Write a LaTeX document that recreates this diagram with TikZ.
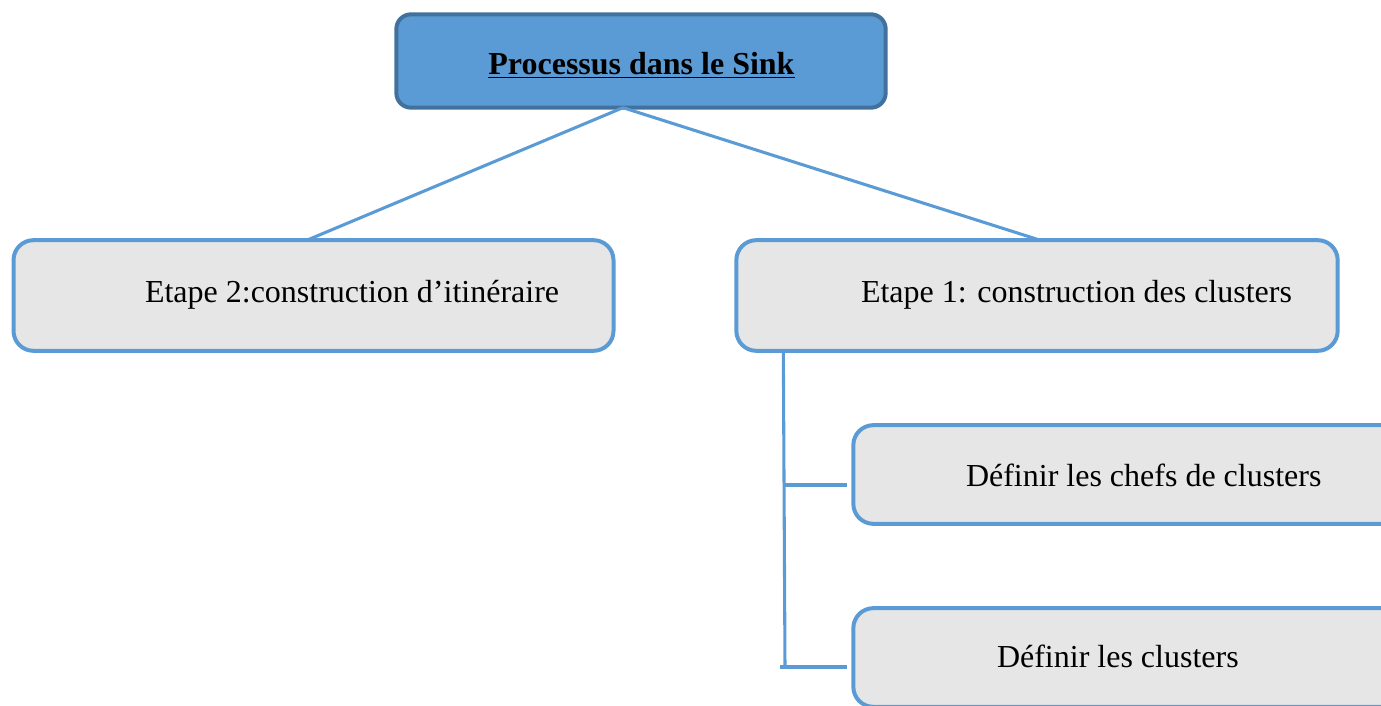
\documentclass[tikz,border=0pt]{standalone}
\usepackage{fontspec}
\setmainfont{Liberation Serif}
\usetikzlibrary{calc}
\definecolor{accent}{HTML}{5B9BD5}
\definecolor{accentdark}{HTML}{41719C}
\definecolor{panel}{HTML}{E7E6E6}
\begin{document}
\begin{tikzpicture}[x=0.75pt,y=-0.75pt,
  every node/.style={inner sep=0pt,outer sep=0pt},
  rootbox/.style={draw=accentdark,fill=accent,line width=3pt,rounded corners=11pt},
  stepbox/.style={draw=accent,fill=panel,line width=3pt,rounded corners=15pt},
  label/.style={font=\fontsize{24}{28}\selectfont,anchor=base west},
  link/.style={draw=accent,line width=2.3pt}]
\useasboundingbox (0,0) rectangle (1381,706);
\clip (0,0) rectangle (1381,706);

% boxes
\node[rootbox,minimum width=367pt,minimum height=70pt] (sink) at (641,61) {};
\node[stepbox,minimum width=450pt,minimum height=83pt] (etape2) at (313.5,295.5) {};
\node[stepbox,minimum width=451pt,minimum height=83pt] (etape1) at (1037,295.5) {};
\node[stepbox,minimum width=451pt,minimum height=74pt] (chefs) at (1154,474.5) {};
\node[stepbox,minimum width=451pt,minimum height=74pt] (clusters) at (1154,657.5) {};

% texts
\node[font=\fontsize{24}{28}\selectfont\bfseries,anchor=base] (tsink) at (641.5,75) {\underline{Processus dans le Sink}};
\node[label] (t2) at (145,302) {Etape 2:construction d’itinéraire};
\node[label] (t1) at (861,302) {Etape 1: construction des clusters};
\node[label] (tchefs) at (966,486) {Définir les chefs de clusters};
\node[label] (tclusters) at (997,667) {Définir les clusters};

% tree connectors
\coordinate (apex) at ($(sink.south)+(-18,0)$);
\draw[link] (apex) -- ($(etape2.north)+(-6.5,0)$);
\draw[link] (apex) -- ($(etape1.north)+(3,0)$);

\coordinate (vtop) at ($(etape1.south west)+(47,0)$);
\coordinate (vbot) at (785,668);
\draw[link] (vtop) -- (vbot);
\coordinate (b1) at (784,485);
\draw[link] (b1) -- ($(chefs.west)+(-6,10.5)$);
\draw[link] (780,667) -- ($(clusters.west)+(-6,9.5)$);
\end{tikzpicture}
\end{document}
